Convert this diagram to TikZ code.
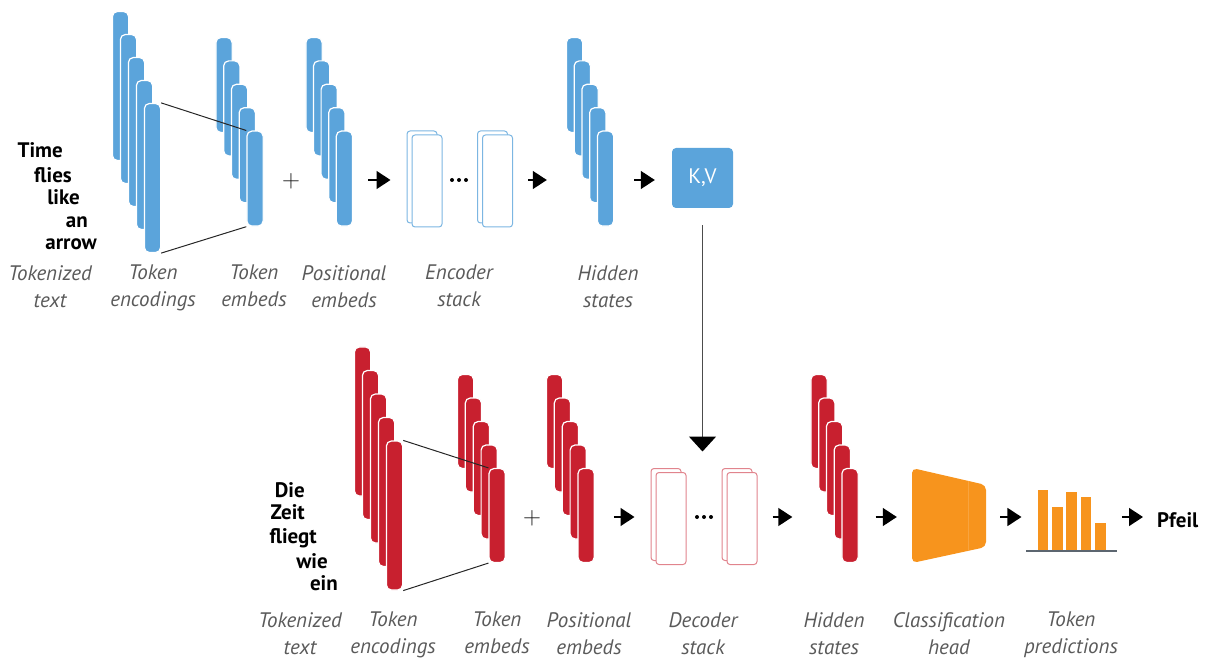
\documentclass[tikz,border=0pt]{standalone}
\usepackage{fontspec}
\setmainfont{PT Sans}
\usepackage{tikz}
\usetikzlibrary{arrows.meta, positioning, calc, fit}

\definecolor{encblue}{HTML}{5BA4DB}
\definecolor{decred}{HTML}{C8202F}
\definecolor{headorange}{HTML}{F7941D}
\definecolor{labelgray}{HTML}{5A5A5A}
\definecolor{axisgray}{HTML}{5C6670}

\begin{document}
\begin{tikzpicture}[
    x=1pt, y=-1pt,
    vecbar/.style={draw=white, line width=1.2pt, rounded corners=5pt, minimum width=16.2pt, inner sep=0pt},
    bluebar/.style={vecbar, fill=encblue, minimum height=#1},
    redbar/.style={vecbar, fill=decred, minimum height=#1},
    encblock/.style={draw=encblue!80, fill=white, line width=1pt, rounded corners=3pt, minimum width=30pt, minimum height=92pt, inner sep=0pt},
    decblock/.style={encblock, draw=decred!55},
    word/.style={font=\fontsize{21}{21}\selectfont\bfseries, anchor=base east, inner sep=0pt},
    caption/.style={font=\fontsize{21}{27}\selectfont\itshape, text=labelgray, align=center, anchor=north, inner sep=0pt},
    flow/.style={line width=1.4pt, -{Triangle[length=14pt,width=18pt]}},
    kvarrow/.style={line width=1.5pt, draw=black!70, -{Triangle[length=15pt,width=27pt,color=black]}},
    crossline/.style={line width=1pt, black!85},
    kvbox/.style={fill=encblue, rounded corners=4pt, minimum width=61pt, minimum height=60pt, text=white, font=\fontsize{21}{21}\selectfont},
    predbar/.style={fill=headorange, minimum width=10.5pt, inner sep=0pt, anchor=south, minimum height=#1}
]
\useasboundingbox (0,0) rectangle (1205,660);

\coordinate (toprow) at (0,180);
\coordinate (botrow) at (0,517);

% === ENCODER ROW ===
\node[word] (tw1) at (63,158) {Time};
\node[word] (tw2) at (72,183) {flies};
\node[word] (tw3) at (80,205) {like};
\node[word] (tw4) at (88,228) {an};
\node[word] (tw5) at (97,250) {arrow};

\foreach \i in {0,...,4} {
    \node[bluebar=149pt] (te\i) at ({120.5+8*\i}, {86+23*\i}) {};
}
\foreach \i in {0,...,4} {
    \node[bluebar=95pt] (tm\i) at ({224+7.75*\i}, {85+23.4*\i}) {};
}
\draw[crossline] (te4.north east) -- (tm4.north west);
\draw[crossline] (te4.south east) -- (tm4.south west);

\node[font=\fontsize{36}{36}\selectfont, text=black!90] (plus1) at (291,181) {$+$};

\foreach \i in {0,...,4} {
    \node[bluebar=95pt] (pe\i) at ({314+7.6*\i}, {85+23.4*\i}) {};
}

\node[encblock] (eb1b) at (422,177) {};
\node[encblock] (eb1) at (427,181) {};
\node[encblock] (eb2b) at (492.5,177) {};
\node[encblock] (eb2) at (497.5,181) {};
\foreach \d in {-7,0,7} \fill (459+\d,180) circle (2pt);

\foreach \i in {0,...,4} {
    \node[bluebar=95pt] (hs\i) at ({574.5+7.75*\i}, {85+23.4*\i}) {};
}

\node[kvbox] (kv) at (702.5,178) {K,V};

\draw[flow, shorten <=15pt, shorten >=16pt] (toprow -| pe4.east) -- (toprow -| eb1b.west);
\draw[flow, shorten <=15pt, shorten >=19pt] (toprow -| eb2.east) -- (toprow -| hs0.west);
\draw[flow, shorten <=20pt, shorten >=17pt] (toprow -| hs4.east) -- (toprow -| kv.west);

\node[caption] (tl1) at (50,265) {Tokenized\\text};
\node[caption] (tl2) at (153,265) {Token\\encodings};
\node[caption] (tl3) at (254,265) {Token\\embeds};
\node[caption] (tl4) at (344,265) {Positional\\embeds};
\node[caption] (tl5) at (459,265) {Encoder\\stack};
\node[caption] (tl6) at (608,265) {Hidden\\states};

% === DECODER ROW ===
\node[word] (bw1) at (305,497) {Die};
\node[word] (bw2) at (305,519) {Zeit};
\node[word] (bw3) at (317,543) {fliegt};
\node[word] (bw4) at (328,568) {wie};
\node[word] (bw5) at (338,590) {ein};

\foreach \i in {0,...,4} {
    \node[redbar=149pt] (dte\i) at ({362.5+8*\i}, {421.5+23.5*\i}) {};
}
\foreach \i in {0,...,4} {
    \node[redbar=94pt] (dtm\i) at ({465.5+7.9*\i}, {421.5+23.5*\i}) {};
}
\draw[crossline] (dte4.north east) -- (dtm4.north west);
\draw[crossline] (dte4.south east) -- (dtm4.south west);

\node[font=\fontsize{36}{36}\selectfont, text=black!90] (plus2) at (532,518) {$+$};

\foreach \i in {0,...,4} {
    \node[redbar=94pt] (dpe\i) at ({554.5+7.9*\i}, {421.5+23.5*\i}) {};
}

\node[decblock] (db1b) at (666,514.5) {};
\node[decblock] (db1) at (671,518.5) {};
\node[decblock] (db2b) at (737,514.5) {};
\node[decblock] (db2) at (742,518.5) {};
\foreach \d in {-7,0,7} \fill (704+\d,517) circle (2pt);

\foreach \i in {0,...,4} {
    \node[redbar=94pt] (dhs\i) at ({819+7.75*\i}, {421.5+23.5*\i}) {};
}

% classification head
\path[fill=headorange, rounded corners=5pt] (912,468) -- (986,485) -- (986,547) -- (912,563) -- cycle;
\draw[headorange!85!white, line width=0.6pt] (968,481) -- (968,551);
\node[fit={(912,468) (986,563)}, inner sep=0pt] (head) {};

% token predictions
\foreach \h [count=\k] in {60,43,58,53,27} {
    \node[predbar=\h pt] (pb\k) at ({1028.5+14.4*\k}, 550) {};
}
\draw[axisgray, line width=2pt] (1026,551) -- (1117,551);

\node[font=\fontsize{21}{21}\selectfont\bfseries, anchor=base west, inner sep=0pt] (pfeil) at (1157,527) {Pfeil};

\draw[kvarrow, shorten <=17pt, shorten >=16.5pt] (kv.south) -- (kv.south |- db1b.north);

\draw[flow, shorten <=19pt, shorten >=16pt] (botrow -| dpe4.east) -- (botrow -| db1b.west);
\draw[flow, shorten <=15pt, shorten >=18pt] (botrow -| db2.east) -- (botrow -| dhs0.west);
\draw[flow, shorten <=17pt, shorten >=15pt] (botrow -| dhs4.east) -- (botrow -| head.west);
\draw[flow, shorten <=14pt, shorten >=16pt] (botrow -| head.east) -- (botrow -| pb1.west);
\draw[flow, shorten <=16pt, shorten >=14pt] (botrow -| pb5.east) -- (botrow -| pfeil.west);

\node[caption] (bl1) at (300,612) {Tokenized\\text};
\node[caption] (bl2) at (393,612) {Token\\encodings};
\node[caption] (bl3) at (497,612) {Token\\embeds};
\node[caption] (bl4) at (589,612) {Positional\\embeds};
\node[caption] (bl5) at (703,612) {Decoder\\stack};
\node[caption] (bl6) at (834,612) {Hidden\\states};
\node[caption] (bl7) at (949,612) {Classification\\head};
\node[caption] (bl8) at (1071,612) {Token\\predictions};

\end{tikzpicture}
\end{document}
